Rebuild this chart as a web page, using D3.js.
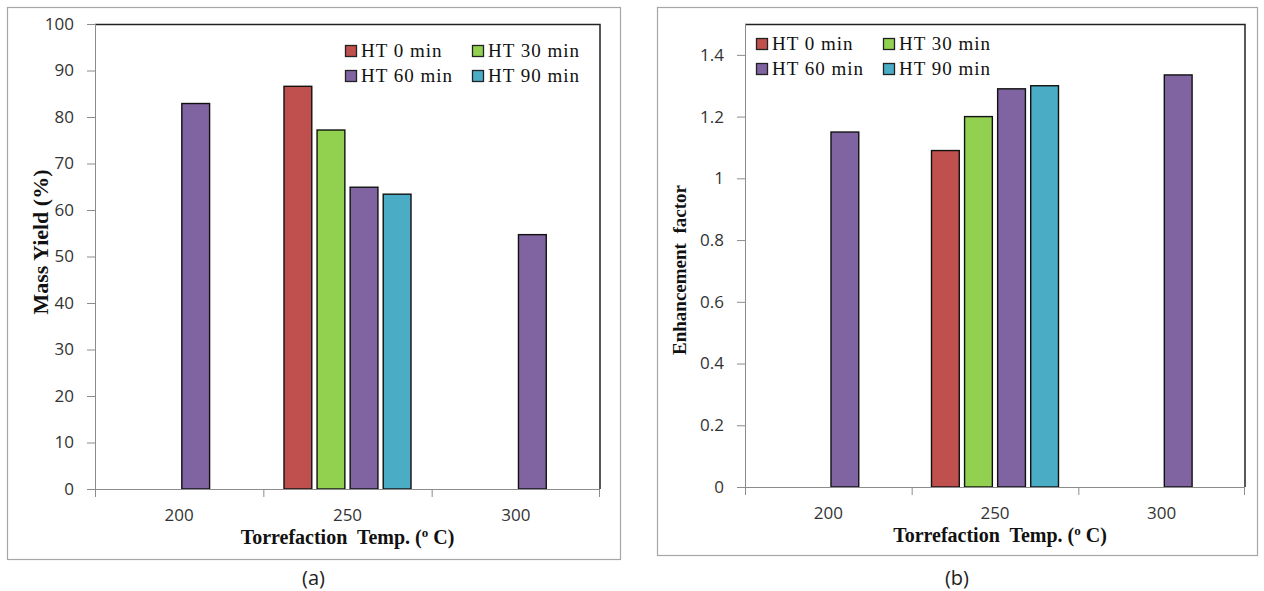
<!DOCTYPE html>
<html>
<head>
<meta charset="utf-8">
<script src="https://cdn.jsdelivr.net/npm/d3@7"></script>
<style>
  body { margin: 0; background: #fff; }
  .axis .tick text, text.xlab { font-family: "Open Sans", sans-serif; font-size: 17px; fill: #333; }
  .axis path, .axis line { stroke: #8c8c8c; }
  .legend text { font-family: "Liberation Serif", serif; font-size: 19px; letter-spacing: 1px; fill: #111; }
  .title { font-family: "Liberation Serif", serif; font-weight: bold; fill: #111; white-space: pre; }
  .caption { font-family: "Open Sans", sans-serif; font-size: 20px; fill: #222; }
</style>
</head>
<body>
<svg id="chart" width="1264" height="591"></svg>
<script>
// categories and series
var categories = ["200", "250", "300"];
var seriesNames = ["HT 0 min", "HT 30 min", "HT 60 min", "HT 90 min"];
var seriesColors = ["#C0504D", "#92D050", "#8064A2", "#4BACC6"];

// (a) mass yield, %
var massYield0 = [null, 86.6, null];
var massYield30 = [null, 77.2, null];
var massYield60 = [82.9, 64.9, 54.7];
var massYield90 = [null, 63.4, null];
var massTicks = [0, 10, 20, 30, 40, 50, 60, 70, 80, 90, 100];

// (b) enhancement factor
var enh0 = [null, 1.09, null];
var enh30 = [null, 1.2, null];
var enh60 = [1.15, 1.29, 1.335];
var enh90 = [null, 1.3, null];
var enhTicks = [0, 0.2, 0.4, 0.6, 0.8, 1, 1.2, 1.4];

var svg = d3.select("#chart");

function drawPanel(p) {
  // outer frame
  svg.append("rect")
    .attr("x", p.frame[0] + 0.5).attr("y", p.frame[1] + 0.5)
    .attr("width", p.frame[2]).attr("height", p.frame[3])
    .attr("fill", "none").attr("stroke", "#a6a6a6").attr("stroke-width", 1.2);

  var g = svg.append("g").attr("transform", `translate(${p.left}, ${p.top})`);
  var width = p.width, height = p.height;

  var x0 = d3.scaleBand().domain(categories).range([0, width]);
  var groupW = 127;
  var x1 = d3.scaleBand().domain(seriesNames).range([-groupW / 2, groupW / 2]).paddingInner(0.16);
  var y = d3.scaleLinear().domain(p.domain).range([height, 0]);

  // top and right frame of plot area
  g.append("path")
    .attr("d", `M0,0.5H${width}V${height}`)
    .attr("fill", "none").attr("stroke", "#222").attr("stroke-width", 1.5);

  // bars
  var rows = [];
  p.series.forEach(function(vals, si) {
    vals.forEach(function(v, ci) {
      if (v != null) rows.push({ cat: categories[ci], s: seriesNames[si], c: seriesColors[si], v: v });
    });
  });
  g.selectAll("rect.bar")
    .data(rows)
    .enter()
    .append("rect")
    .attr("class", "bar")
    .attr("x", d => x0(d.cat) + x0.bandwidth() / 2 + x1(d.s))
    .attr("y", d => y(d.v))
    .attr("width", x1.bandwidth())
    .attr("height", d => height - y(d.v))
    .attr("fill", d => d.c)
    .attr("stroke", "#111")
    .attr("stroke-width", 1.4);

  // y axis
  g.append("g").attr("class", "axis")
    .call(d3.axisLeft(y).tickValues(p.ticks).tickSize(8).tickPadding(13).tickSizeOuter(0).tickFormat(d3.format("")))
    .call(s => s.select(".domain").attr("d", `M0.5,${height}V0`));

  // x axis: ticks on category boundaries
  var xAxis = g.append("g").attr("class", "axis")
    .attr("transform", `translate(0, ${height})`);
  xAxis.append("line").attr("x1", 0).attr("x2", width).attr("y1", 0.5).attr("y2", 0.5);
  xAxis.selectAll("line.tk")
    .data(categories.concat(["end"]))
    .enter().append("line")
    .attr("class", "tk")
    .attr("x1", (d, i) => i < categories.length ? x0(d) + 0.5 : width - 0.5)
    .attr("x2", (d, i) => i < categories.length ? x0(d) + 0.5 : width - 0.5)
    .attr("y1", 0).attr("y2", 8);
  xAxis.selectAll("text")
    .data(categories)
    .enter().append("text")
    .attr("class", "xlab")
    .attr("x", d => x0(d) + x0.bandwidth() / 2)
    .attr("y", 32)
    .attr("text-anchor", "middle")
    .text(d => d);

  // axis titles
  var xt = g.append("text").attr("class", "title")
    .attr("x", width / 2 + p.xTitleDx).attr("y", height + 55)
    .attr("text-anchor", "middle")
    .style("font-size", "20px");
  xt.append("tspan").text("Torrefaction  Temp. (");
  xt.append("tspan").text("o").attr("font-size", "13px").attr("dy", -7);
  xt.append("tspan").text(" C)").attr("dy", 7);

  g.append("text").attr("class", "title")
    .attr("transform", `translate(${p.yTitleX}, ${p.yTitleY}) rotate(-90)`)
    .attr("text-anchor", "middle")
    .style("font-size", p.yTitleSize + "px")
    .text(p.yTitle);

  // legend
  var lg = g.append("g").attr("class", "legend")
    .attr("transform", `translate(${p.legend[0]}, ${p.legend[1]})`);
  seriesNames.forEach(function(name, i) {
    var item = lg.append("g")
      .attr("transform", `translate(${(i % 2) * 127}, ${Math.floor(i / 2) * 25})`);
    item.append("rect").attr("x", 0.5).attr("y", 0.5).attr("width", 11).attr("height", 11)
      .attr("fill", seriesColors[i]).attr("stroke", "#222").attr("stroke-width", 1.3);
    item.append("text").attr("x", 16).attr("y", 12).text(name);
  });

  // caption
  svg.append("text").attr("class", "caption")
    .attr("x", p.frame[0] + p.frame[2] / 2).attr("y", 585)
    .attr("text-anchor", "middle")
    .text(p.caption);
}

drawPanel({
  frame: [7, 7, 613, 552],
  left: 95, top: 24, width: 505, height: 465,
  domain: [0, 100], ticks: massTicks,
  series: [massYield0, massYield30, massYield60, massYield90],
  yTitle: "Mass Yield (%)", yTitleX: -47, yTitleY: 218, yTitleSize: 22,
  xTitleDx: 0,
  legend: [250, 21],
  caption: "(a)"
});

drawPanel({
  frame: [657, 7, 600, 548],
  left: 745, top: 24, width: 500, height: 463,
  domain: [0, 1.5], ticks: enhTicks,
  series: [enh0, enh30, enh60, enh90],
  yTitle: "Enhancement  factor", yTitleX: -59, yTitleY: 246, yTitleSize: 19,
  xTitleDx: 5,
  legend: [11, 14],
  caption: "(b)"
});
</script>
</body>
</html>
